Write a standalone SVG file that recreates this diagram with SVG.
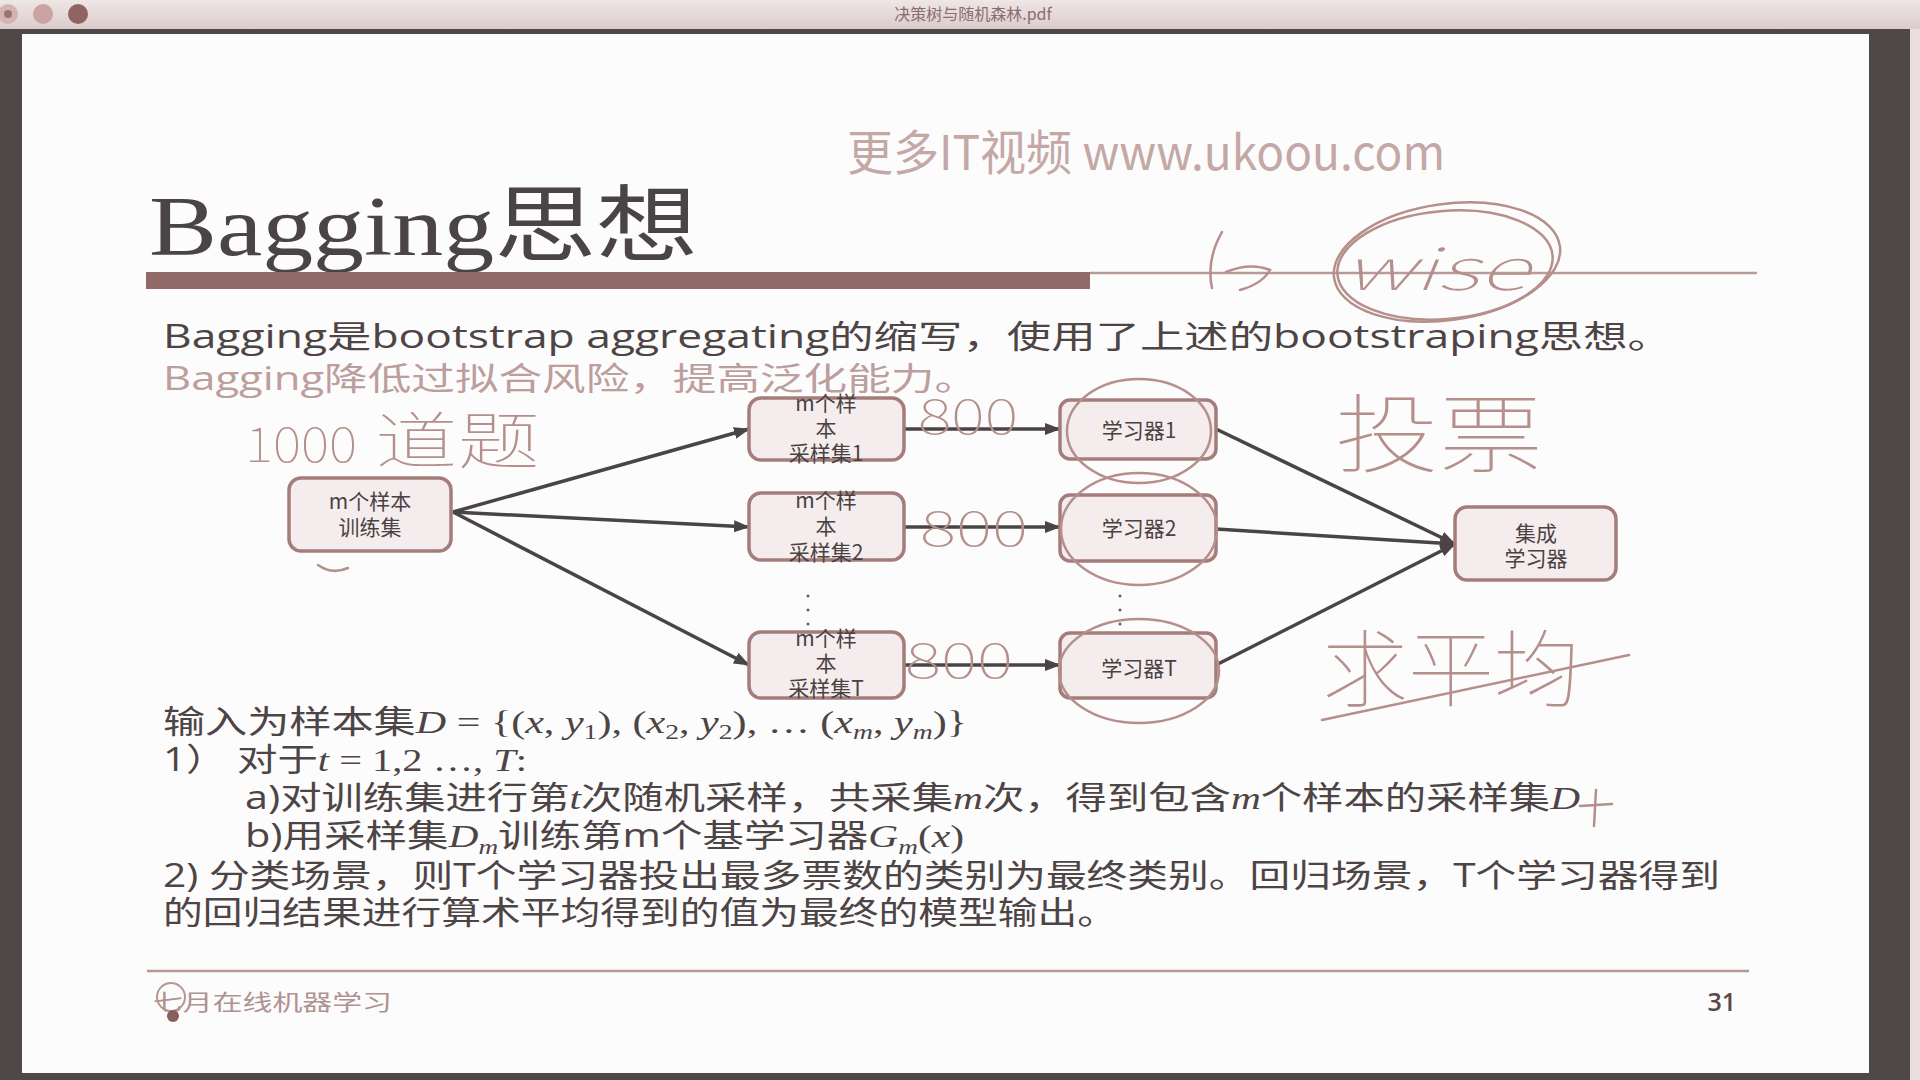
<svg xmlns="http://www.w3.org/2000/svg" width="1920" height="1080" viewBox="0 0 1920 1080">
<defs>
<linearGradient id="bar" x1="0" y1="0" x2="0" y2="1"><stop offset="0" stop-color="#efe6e6"/><stop offset="1" stop-color="#dccccc"/></linearGradient>
<marker id="ah" markerWidth="16" markerHeight="12" refX="15" refY="6" orient="auto" markerUnits="userSpaceOnUse"><path d="M0,0 L16,6 L0,12 z" fill="#4a4444"/></marker>
<style>
.node{fill:#f5eded;stroke:#a47d7a;stroke-width:3.5}
.nt{font-family:"Noto Sans CJK SC","Open Sans",sans-serif;font-size:21px;fill:#4a4242;text-anchor:middle}
.edge{stroke:#4a4444;stroke-width:3.5;fill:none;marker-end:url(#ah)}
.body{font-family:"Open Sans","Noto Sans CJK SC",sans-serif;font-size:32px;fill:#4d4545}
.m{font-family:"Liberation Serif",serif;font-style:italic}
.mr{font-family:"Liberation Serif",serif}
.hand{fill:none;stroke:#b58f8b;stroke-width:2.5;stroke-linecap:round}
.ht{font-family:"Noto Sans CJK SC",sans-serif;font-weight:100;fill:#b58f8b}
</style>
</defs>
<rect x="0" y="0" width="1920" height="1080" fill="#4f4848"/>
<rect x="0" y="0" width="1920" height="29" fill="url(#bar)"/>
<circle cx="8" cy="14" r="10" fill="#d3b4b2"/><circle cx="8" cy="14" r="4" fill="#9a7474"/>
<circle cx="43" cy="14" r="10" fill="#c9a4a2"/>
<circle cx="78" cy="14" r="10" fill="#8f6463"/>
<text x="973" y="20" font-family="Noto Sans CJK SC,sans-serif" font-size="16" fill="#8a6e6e" text-anchor="middle">决策树与随机森林.pdf</text>
<rect x="1910" y="29" width="10" height="1051" fill="#e9dddd"/>
<rect x="22" y="34" width="1847" height="1039" fill="#fdfcfc"/>

<text x="847" y="170" font-family="Noto Sans CJK SC,sans-serif" font-size="48" fill="#c4a8a6" textLength="598" lengthAdjust="spacingAndGlyphs">更多IT视频 www.ukoou.com</text>

<text x="149" y="255" font-family="Liberation Serif,Noto Sans CJK SC,serif" font-size="84" fill="#4a4444" textLength="549" lengthAdjust="spacingAndGlyphs">Bagging思想</text>
<rect x="146" y="272" width="944" height="17" fill="#8f6a68"/>
<line x1="1090" y1="273" x2="1757" y2="273" stroke="#b89a98" stroke-width="2.5"/>

<text class="body" x="163" y="348" textLength="1509" lengthAdjust="spacingAndGlyphs">Bagging是bootstrap aggregating的缩写，使用了上述的bootstraping思想。</text>
<text class="body" x="163" y="390" style="fill:#bc9e9c" textLength="815" lengthAdjust="spacingAndGlyphs">Bagging降低过拟合风险，提高泛化能力。</text>

<g id="connectors">
<line class="edge" x1="453" y1="512" x2="749" y2="429"/>
<line class="edge" x1="453" y1="512" x2="749" y2="527"/>
<line class="edge" x1="453" y1="512" x2="749" y2="665"/>
<line class="edge" x1="904" y1="429" x2="1060" y2="429"/>
<line class="edge" x1="904" y1="527" x2="1060" y2="527"/>
<line class="edge" x1="904" y1="665" x2="1060" y2="665"/>
<line class="edge" x1="1216" y1="429" x2="1455" y2="544"/>
<line class="edge" x1="1216" y1="529" x2="1455" y2="544"/>
<line class="edge" x1="1216" y1="665" x2="1455" y2="544"/>
</g>

<g id="train"><rect class="node" x="289" y="478" width="162" height="73" rx="12"/>
<text class="nt" x="370" y="509">m个样本</text><text class="nt" x="370" y="535">训练集</text></g>
<g id="sample1"><rect class="node" x="749" y="398" width="155" height="62" rx="12"/>
<text class="nt" x="826" y="411">m个样</text><text class="nt" x="826" y="436">本</text><text class="nt" x="826" y="461">采样集1</text></g>
<g id="sample2"><rect class="node" x="749" y="493" width="155" height="67" rx="12"/>
<text class="nt" x="826" y="508">m个样</text><text class="nt" x="826" y="534">本</text><text class="nt" x="826" y="560">采样集2</text></g>
<g id="sampleT"><rect class="node" x="749" y="632" width="155" height="66" rx="12"/>
<text class="nt" x="826" y="646">m个样</text><text class="nt" x="826" y="671">本</text><text class="nt" x="826" y="696">采样集T</text></g>
<g id="dots1" fill="#6a5a5a"><circle cx="808" cy="596" r="1.5"/><circle cx="808" cy="610" r="1.5"/><circle cx="808" cy="624" r="1.5"/></g>
<g id="learner1"><rect class="node" x="1060" y="400" width="156" height="59" rx="10"/><text class="nt" x="1139" y="438">学习器1</text></g>
<g id="learner2"><rect class="node" x="1060" y="495" width="156" height="66" rx="10"/><text class="nt" x="1139" y="536">学习器2</text></g>
<g id="learnerT"><rect class="node" x="1060" y="633" width="156" height="65" rx="10"/><text class="nt" x="1139" y="676">学习器T</text></g>
<g id="dots2" fill="#6a5a5a"><circle cx="1120" cy="596" r="1.5"/><circle cx="1120" cy="610" r="1.5"/><circle cx="1120" cy="624" r="1.5"/></g>
<g id="ensemble"><rect class="node" x="1455" y="507" width="161" height="73" rx="12"/>
<text class="nt" x="1536" y="541">集成</text><text class="nt" x="1536" y="566">学习器</text></g>

<text class="body" x="163" y="733" textLength="804" lengthAdjust="spacingAndGlyphs">输入为样本集<tspan class="m">D</tspan><tspan class="mr"> = {(</tspan><tspan class="m">x</tspan><tspan class="mr">, </tspan><tspan class="m">y</tspan><tspan class="mr" font-size="21" dy="6">1</tspan><tspan class="mr" dy="-6">), (</tspan><tspan class="m">x</tspan><tspan class="mr" font-size="21" dy="6">2</tspan><tspan class="mr" dy="-6">, </tspan><tspan class="m">y</tspan><tspan class="mr" font-size="21" dy="6">2</tspan><tspan class="mr" dy="-6">), … (</tspan><tspan class="m">x</tspan><tspan class="m" font-size="21" dy="6">m</tspan><tspan class="mr" dy="-6">, </tspan><tspan class="m">y</tspan><tspan class="m" font-size="21" dy="6">m</tspan><tspan class="mr" dy="-6">)}</tspan></text>
<text class="body" x="163" y="771" textLength="364" lengthAdjust="spacingAndGlyphs">1）  对于<tspan class="m">t</tspan><tspan class="mr"> = 1,2 …, </tspan><tspan class="m">T</tspan><tspan class="mr">:</tspan></text>
<text class="body" x="245" y="809" textLength="1335" lengthAdjust="spacingAndGlyphs">a)对训练集进行第<tspan class="m">t</tspan>次随机采样，共采集<tspan class="m">m</tspan>次，得到包含<tspan class="m">m</tspan>个样本的采样集<tspan class="m">D</tspan></text>
<text class="body" x="245" y="847" textLength="719" lengthAdjust="spacingAndGlyphs">b)用采样集<tspan class="m">D</tspan><tspan class="m" font-size="21" dy="7">m</tspan><tspan dy="-7">训练第m个基学习器</tspan><tspan class="m">G</tspan><tspan class="m" font-size="21" dy="7">m</tspan><tspan class="mr" dy="-7">(</tspan><tspan class="m">x</tspan><tspan class="mr">)</tspan></text>
<text class="body" x="163" y="887" textLength="1557" lengthAdjust="spacingAndGlyphs">2) 分类场景，则T个学习器投出最多票数的类别为最终类别。回归场景，T个学习器得到</text>
<text class="body" x="163" y="924" textLength="954" lengthAdjust="spacingAndGlyphs">的回归结果进行算术平均得到的值为最终的模型输出。</text>

<line x1="147" y1="971" x2="1749" y2="971" stroke="#b89894" stroke-width="2.5"/>
<text x="153" y="1010" font-family="Noto Sans CJK SC,sans-serif" font-size="22" fill="#b09292" textLength="239" lengthAdjust="spacingAndGlyphs">七月在线机器学习</text>
<circle cx="171" cy="997" r="14" fill="none" stroke="#b89494" stroke-width="2"/>
<circle cx="173" cy="1016" r="6" fill="#8a5e5c"/>
<text x="1736" y="1011" font-family="Open Sans,sans-serif" font-size="25" font-weight="600" fill="#5a4848" text-anchor="end">31</text>

<g id="annotations">
<ellipse class="hand" cx="1139" cy="431" rx="72" ry="52"/>
<ellipse class="hand" cx="1139" cy="529" rx="78" ry="56"/>
<ellipse class="hand" cx="1139" cy="671" rx="80" ry="52"/>
<ellipse class="hand" cx="1447" cy="262" rx="114" ry="58" transform="rotate(-8 1447 262)"/>
<ellipse class="hand" cx="1445" cy="265" rx="108" ry="54" transform="rotate(-5 1445 265)"/>
<path class="hand" d="M1222,232 Q1206,260 1212,288"/>
<path class="hand" d="M1226,272 Q1250,262 1270,270 Q1262,284 1240,290"/>
<path class="hand" d="M1322,720 L1629,655"/>
<path class="hand" d="M318,565 Q332,575 348,568"/>
<path class="hand" d="M1580,806 L1612,804 M1596,790 L1594,826"/>
<text class="ht" x="1343" y="290" font-size="58" font-style="italic" textLength="185" lengthAdjust="spacingAndGlyphs">wise</text>
<text class="ht" x="245" y="462" font-size="48" textLength="112" lengthAdjust="spacingAndGlyphs">1000</text>
<text class="ht" x="375" y="464" font-size="62" textLength="165" lengthAdjust="spacingAndGlyphs">道题</text>
<text class="ht" x="918" y="434" font-size="48" textLength="100" lengthAdjust="spacingAndGlyphs">800</text>
<text class="ht" x="920" y="546" font-size="48" textLength="108" lengthAdjust="spacingAndGlyphs">800</text>
<text class="ht" x="905" y="678" font-size="48" textLength="108" lengthAdjust="spacingAndGlyphs">800</text>
<text class="ht" x="1335" y="466" font-size="86" textLength="208" lengthAdjust="spacingAndGlyphs">投票</text>
<text class="ht" x="1322" y="700" font-size="84" textLength="258" lengthAdjust="spacingAndGlyphs">求平均</text>
</g>
</svg>
